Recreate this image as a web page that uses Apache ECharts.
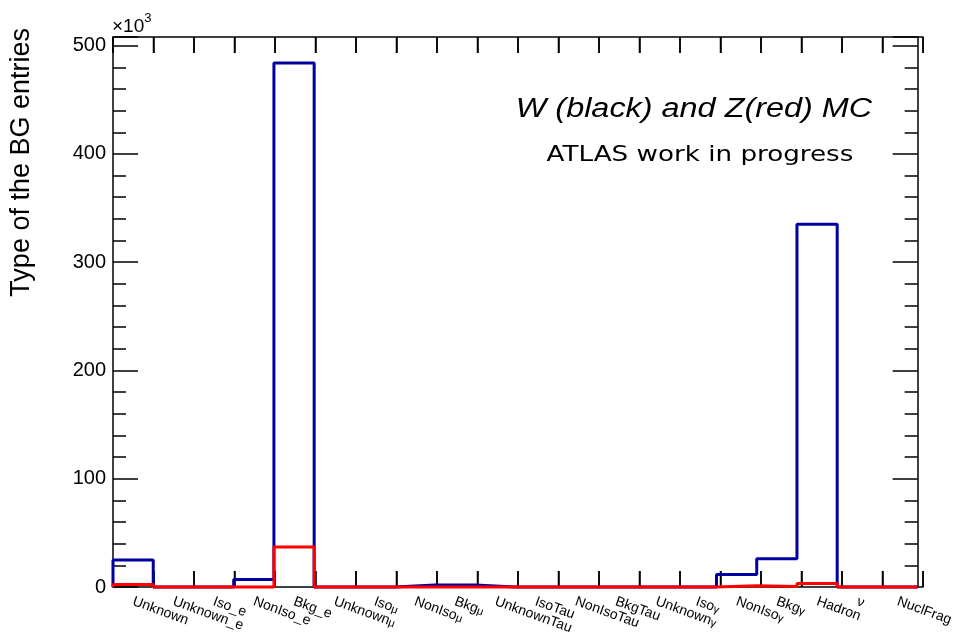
<!DOCTYPE html>
<html><head><meta charset="utf-8">
<script src="https://cdn.jsdelivr.net/npm/echarts@6.0.0/dist/echarts.min.js"></script>
<style>html,body{margin:0;padding:0;background:#fff}#c{width:956px;height:637px}</style>
</head><body><div id="c"></div>
<script>
// bin labels (20 bins)
const binLabels = ['Unknown','Unknown_e','Iso_e','NonIso_e','Bkg_e','Unknownμ','Isoμ','NonIsoμ','Bkgμ','UnknownTau','IsoTau','NonIsoTau','BkgTau','Unknownγ','Isoγ','NonIsoγ','Bkgγ','Hadron','ν','NuclFrag'];
// entries in units of 10^3
const wValues = [25, 0, 0, 7, 484, 0, 0, 1.8, 1.8, 0, 0, 0, 0, 0, 0, 11.5, 26, 335, 0, 0];
const zValues = [2.2, 0, 0, 0, 37, 0, 0, 0, 0, 0, 0, 0, 0, 0, 0, 1.2, 0.4, 3.2, 0, 0];
const yTickLabels = [0, 100, 200, 300, 400, 500];
const yMax = 508;
const nBins = binLabels.length;
const binEdges = Array.from({length: nBins + 1}, (_, i) => [i, 0]);

// histogram outline: bin edges at integer x, height = bin content
function histOutline(vals) {
  const d = [[0, 0]];
  vals.forEach((v, i) => { d.push([i, v]); d.push([i + 1, v]); });
  d.push([vals.length, 0]);
  return d;
}
function fmtLabel(s) {
  const last = s.slice(-1);
  if (s.length > 1 && (last === 'μ' || last === 'γ')) return '{b|' + s.slice(0, -1) + '}{s|' + last + '}';
  return '{b|' + s + '}';
}
const FONT = 'Liberation Sans, Arial, Helvetica, sans-serif';
const gridRect = {left: 113, right: 33, top: 37, bottom: 50};
const frameAxis = (pos) => ({
  type: 'value', gridIndex: 1, min: 0, max: nBins, interval: 1, position: pos,
  axisLine: {show: true, onZero: false, lineStyle: {color: '#000', width: 1.5}},
  axisTick: {show: true, inside: true, length: 16, lineStyle: {color: '#000', width: 1.5}},
  axisLabel: {show: false},
  splitLine: {show: false}
});
const yFrame = (pos) => ({
  type: 'value', gridIndex: 0, min: 0, max: yMax, interval: 100, position: pos,
  axisLine: {show: true, onZero: false, lineStyle: {color: '#000', width: 1.5}},
  axisTick: {show: true, inside: true, length: 25, lineStyle: {color: '#000', width: 1.5}},
  minorTick: {show: true, splitNumber: 5, length: 13, lineStyle: {color: '#000', width: 1.5}},
  axisLabel: pos === 'left' ? {margin: 7, color: '#000', fontFamily: FONT, fontSize: 20,
    formatter: v => yTickLabels.includes(v) ? String(v) : ''} : {show: false},
  splitLine: {show: false}
});
const catAxis = {type: 'category', gridIndex: 0, data: binLabels, position: 'bottom', boundaryGap: true,
  axisLine: {show: false, onZero: false}, axisTick: {show: false},
  axisLabel: {interval: 0, rotate: -20, margin: 14, color: '#000', fontFamily: FONT, fontSize: 14,
    formatter: fmtLabel,
    rich: {
      b: {fontFamily: FONT, fontSize: 14, color: '#000'},
      s: {fontFamily: FONT, fontSize: 11, color: '#000', verticalAlign: 'bottom', lineHeight: 11, padding: [8, 0, 0, 0]}
    }},
  splitLine: {show: false}};
const chart = echarts.init(document.getElementById('c'));
chart.setOption({
  backgroundColor: '#fff',
  animation: false,
  grid: [Object.assign({}, gridRect), Object.assign({}, gridRect)],
  xAxis: [
    {type: 'value', gridIndex: 0, min: 0, max: nBins, show: false},
    catAxis,
    frameAxis('bottom'),
    frameAxis('top')
  ],
  yAxis: [yFrame('left'), yFrame('right'),
    {type: 'value', gridIndex: 1, min: 0, max: yMax, show: false}],
  series: [
    {name: 'edges', type: 'custom', xAxisIndex: 2, yAxisIndex: 2, data: binEdges, encode: {x: 0, y: 1},
     silent: true, z: 1,
     renderItem: (params, api) => {
       const x = api.value(0);
       const pb = api.coord([x, 0]);
       const pt = api.coord([x, yMax]);
       return {type: 'group', children: [
         {type: 'line', shape: {x1: pb[0], y1: pb[1], x2: pb[0], y2: pb[1] - 16}, style: {stroke: '#000', lineWidth: 1.5}},
         {type: 'line', shape: {x1: pt[0], y1: pt[1], x2: pt[0], y2: pt[1] + 16}, style: {stroke: '#000', lineWidth: 1.5}}
       ]};
     }},
    {name: 'W', type: 'line', xAxisIndex: 0, yAxisIndex: 0, data: histOutline(wValues), z: 3,
     symbol: 'none', clip: false, lineStyle: {color: '#00009e', width: 3}},
    {name: 'Z', type: 'line', xAxisIndex: 0, yAxisIndex: 0, data: histOutline(zValues), z: 4,
     symbol: 'none', clip: false, lineStyle: {color: '#ff0000', width: 3}}
  ],
  graphic: [
    {type: 'text', x: 112, y: 36, style: {text: '{a|×10}{s|3}', verticalAlign: 'bottom', textVerticalAlign: 'bottom',
      rich: {a: {fontFamily: FONT, fontSize: 19, fill: '#000', color: '#000', lineHeight: 24, verticalAlign: 'bottom'},
             s: {fontFamily: FONT, fontSize: 13, fill: '#000', color: '#000', lineHeight: 13, verticalAlign: 'top'}}}},
    {type: 'text', x: 22, y: 28, rotation: Math.PI / 2,
     style: {text: 'Type of the BG entries', fontFamily: FONT, fontSize: 27, fill: '#000',
       align: 'right', textAlign: 'right', verticalAlign: 'middle', textVerticalAlign: 'middle'}},
    {type: 'text', x: 694, y: 109, scaleX: 1.2,
     style: {text: 'W (black) and Z(red) MC', fontFamily: FONT, fontStyle: 'italic', fontSize: 27, fill: '#000',
       align: 'center', textAlign: 'center', verticalAlign: 'middle', textVerticalAlign: 'middle'}},
    {type: 'text', x: 700, y: 155, scaleX: 1.19,
     style: {text: 'ATLAS work in progress', fontFamily: 'DejaVu Sans, sans-serif', fontSize: 22, fill: '#000',
       align: 'center', textAlign: 'center', verticalAlign: 'middle', textVerticalAlign: 'middle'}}
  ]
});
</script>
</body></html>
